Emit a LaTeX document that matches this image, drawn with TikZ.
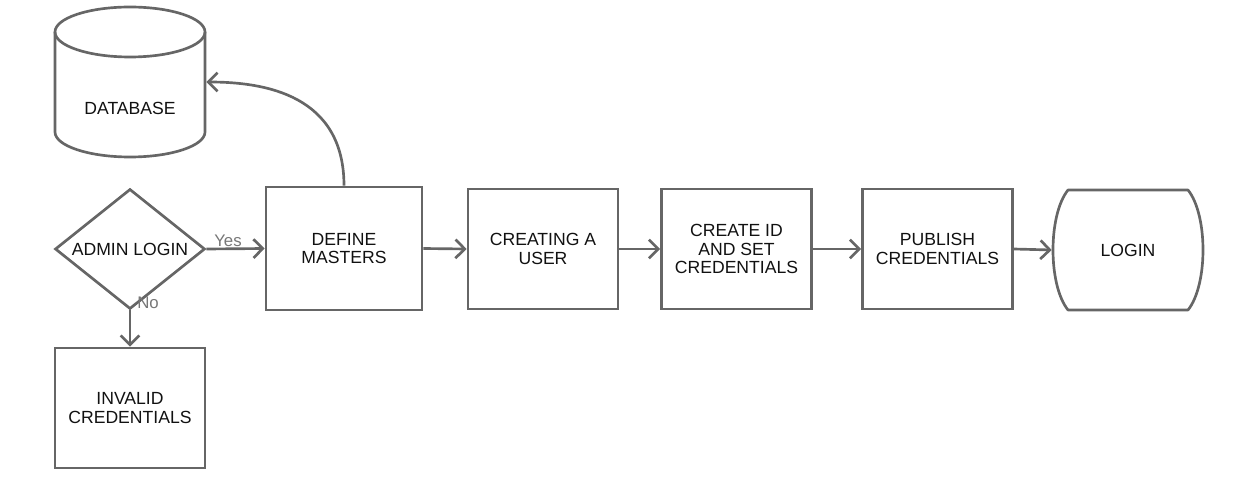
\documentclass[tikz,border=0pt]{standalone}
\usepackage{fontspec}
\setmainfont{Liberation Sans}
\usetikzlibrary{shapes.geometric,arrows.meta}

\definecolor{linegray}{HTML}{666666}
\definecolor{labelgray}{HTML}{777777}
\definecolor{textblack}{HTML}{111111}

\begin{document}
\begin{tikzpicture}[x=0.75pt,y=-0.75pt,
  box/.style={draw=linegray,line width=2pt,minimum width=112.5pt,minimum height=90pt,
    inner sep=0pt,align=center,text=textblack,font=\fontsize{13.2}{14.2}\selectfont},
  flow/.style={draw=linegray,line width=2pt,-{Straight Barb[length=7pt,width=14pt]}},
  answer/.style={text=labelgray,font=\fontsize{12.6}{13}\selectfont,inner sep=0pt}]
  \useasboundingbox (0,0) rectangle (1246,502);

  % database cylinder
  \node[box,draw=none,minimum height=112.5pt] (db) at (130,82) {};
  \draw[linegray,line width=2pt] (130,32) ellipse [x radius=75,y radius=25];
  \draw[linegray,line width=2pt] (55,32) -- (55,132)
    arc [start angle=180,end angle=0,x radius=75,y radius=25] -- (205,32);
  \node[box,draw=none] (dbtext) at (130,108) {DATABASE};

  \node[box,diamond,aspect=1.25] (admin) at (130,249) {ADMIN LOGIN};
  \node[box] (invalid) at (130,408) {INVALID\\CREDENTIALS};
  \node[box,minimum width=117pt,minimum height=92.25pt] (define) at (344,248.5) {DEFINE\\MASTERS};
  \node[box] (creating) at (543,249) {CREATING A\\USER};
  \node[box] (createid) at (736.5,249) {CREATE ID\\AND SET\\CREDENTIALS};
  \node[box] (publish) at (937.5,249) {PUBLISH\\CREDENTIALS};

  % login terminal with bulged sides
  \draw[linegray,line width=2pt,line join=round] (1068,190) -- (1188,190)
    .. controls (1208,215) and (1208,285) .. (1188,310) -- (1068,310)
    .. controls (1048,285) and (1048,215) .. cycle;
  \node[box,draw=none,minimum width=112.5pt] (login) at (1128,250) {LOGIN};

  \draw[flow] (admin.east) -- (define.west);
  \node[answer] (yes) at (228,241) {Yes};
  \draw[flow] (admin.south) -- (invalid.north);
  \node[answer] (no) at (148,303) {No};
  \draw[flow] (define.east) -- (creating.west);
  \draw[flow] (creating.east) -- (createid.west);
  \draw[flow] (createid.east) -- (publish.west);
  \draw[flow] (publish.east) -- (login.west);
  \draw[flow] (define.north) .. controls (344,95) and (265,82) .. (db.east);
\end{tikzpicture}
\end{document}
